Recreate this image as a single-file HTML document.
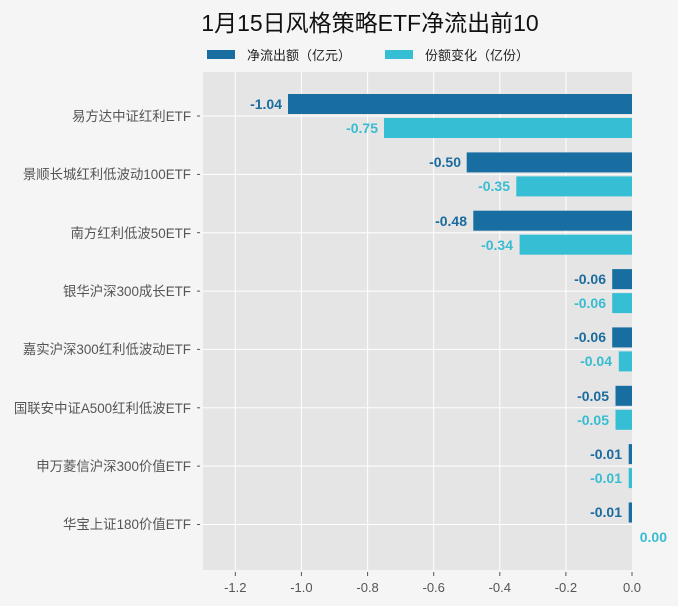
<!DOCTYPE html>
<html><head><meta charset="utf-8"><style>
body{margin:0;background:#f5f5f5;}
svg{display:block;font-family:"Liberation Sans","Noto Sans CJK SC",sans-serif;}
</style></head><body>
<svg width="678" height="606" xmlns="http://www.w3.org/2000/svg">
<rect width="678" height="606" fill="#f5f5f5"/>
<text x="370" y="31" font-size="23" text-anchor="middle" fill="#111">1月15日风格策略ETF净流出前10</text>
<rect x="207" y="50" width="28" height="9" fill="#186ea0"/>
<text x="247" y="60" font-size="13" fill="#222">净流出额（亿元）</text>
<rect x="385" y="50" width="28" height="9" fill="#36bfd4"/>
<text x="425" y="60" font-size="13" fill="#222">份额变化（亿份）</text>
<rect x="203" y="72" width="429" height="498" fill="#e5e5e5"/>
<g stroke="#fff" stroke-width="1">
<line x1="235.3" y1="72" x2="235.3" y2="570"/><line x1="301.4" y1="72" x2="301.4" y2="570"/>
<line x1="367.6" y1="72" x2="367.6" y2="570"/><line x1="433.7" y1="72" x2="433.7" y2="570"/>
<line x1="499.8" y1="72" x2="499.8" y2="570"/><line x1="565.9" y1="72" x2="565.9" y2="570"/>
<line x1="203" y1="116" x2="632" y2="116"/><line x1="203" y1="174.4" x2="632" y2="174.4"/>
<line x1="203" y1="232.7" x2="632" y2="232.7"/><line x1="203" y1="291.1" x2="632" y2="291.1"/>
<line x1="203" y1="349.4" x2="632" y2="349.4"/><line x1="203" y1="407.8" x2="632" y2="407.8"/>
<line x1="203" y1="466.1" x2="632" y2="466.1"/><line x1="203" y1="524.5" x2="632" y2="524.5"/>
</g>
<g font-size="13" fill="#555" text-anchor="middle">
<text x="235.3" y="592">-1.2</text><text x="301.4" y="592">-1.0</text><text x="367.6" y="592">-0.8</text>
<text x="433.7" y="592">-0.6</text><text x="499.8" y="592">-0.4</text><text x="565.9" y="592">-0.2</text><text x="632" y="592">0.0</text>
</g>
<g stroke="#555"><line x1="235.3" y1="572" x2="235.3" y2="576"/><line x1="301.4" y1="572" x2="301.4" y2="576"/><line x1="367.6" y1="572" x2="367.6" y2="576"/><line x1="433.7" y1="572" x2="433.7" y2="576"/><line x1="499.8" y1="572" x2="499.8" y2="576"/><line x1="565.9" y1="572" x2="565.9" y2="576"/><line x1="632" y1="572" x2="632" y2="576"/>
<line x1="197" y1="116" x2="200" y2="116"/><line x1="197" y1="174.4" x2="200" y2="174.4"/><line x1="197" y1="232.7" x2="200" y2="232.7"/><line x1="197" y1="291.1" x2="200" y2="291.1"/><line x1="197" y1="349.4" x2="200" y2="349.4"/><line x1="197" y1="407.8" x2="200" y2="407.8"/><line x1="197" y1="466.1" x2="200" y2="466.1"/><line x1="197" y1="524.5" x2="200" y2="524.5"/></g>
<g font-size="13.4" fill="#555" text-anchor="end">
<text x="191" y="121">易方达中证红利ETF</text>
<text x="191" y="179">景顺长城红利低波动100ETF</text>
<text x="191" y="238">南方红利低波50ETF</text>
<text x="191" y="296">银华沪深300成长ETF</text>
<text x="191" y="354">嘉实沪深300红利低波动ETF</text>
<text x="191" y="413">国联安中证A500红利低波ETF</text>
<text x="191" y="471">申万菱信沪深300价值ETF</text>
<text x="191" y="529">华宝上证180价值ETF</text>
</g>
<g fill="#186ea0">
<rect x="288" y="94" width="344" height="20"/>
<rect x="466.7" y="152.4" width="165.3" height="20"/>
<rect x="473.3" y="210.7" width="158.7" height="20"/>
<rect x="612.2" y="269.1" width="19.8" height="20"/>
<rect x="612.2" y="327.4" width="19.8" height="20"/>
<rect x="615.5" y="385.8" width="16.5" height="20"/>
<rect x="628.7" y="444.1" width="3.3" height="20"/>
<rect x="628.7" y="502.5" width="3.3" height="20"/>
</g>
<g fill="#36bfd4">
<rect x="384" y="118" width="248" height="20"/>
<rect x="516.3" y="176.4" width="115.7" height="20"/>
<rect x="519.6" y="234.7" width="112.4" height="20"/>
<rect x="612.2" y="293.1" width="19.8" height="20"/>
<rect x="618.8" y="351.4" width="13.2" height="20"/>
<rect x="615.5" y="409.8" width="16.5" height="20"/>
<rect x="628.7" y="468.1" width="3.3" height="20"/>
</g>
<g font-size="14" font-weight="bold" fill="#1a6b9e" text-anchor="end">
<text x="282" y="109">-1.04</text><text x="461" y="167">-0.50</text><text x="467" y="226">-0.48</text>
<text x="606" y="284">-0.06</text><text x="606" y="342">-0.06</text><text x="609" y="401">-0.05</text>
<text x="622" y="459">-0.01</text><text x="622" y="517">-0.01</text>
</g>
<g font-size="14" font-weight="bold" fill="#38bcd1" text-anchor="end">
<text x="378" y="133">-0.75</text><text x="510" y="191">-0.35</text><text x="513" y="250">-0.34</text>
<text x="606" y="308">-0.06</text><text x="612" y="366">-0.04</text><text x="609" y="425">-0.05</text>
<text x="622" y="483">-0.01</text><text x="667" y="542">0.00</text>
</g>
</svg>
</body></html>
